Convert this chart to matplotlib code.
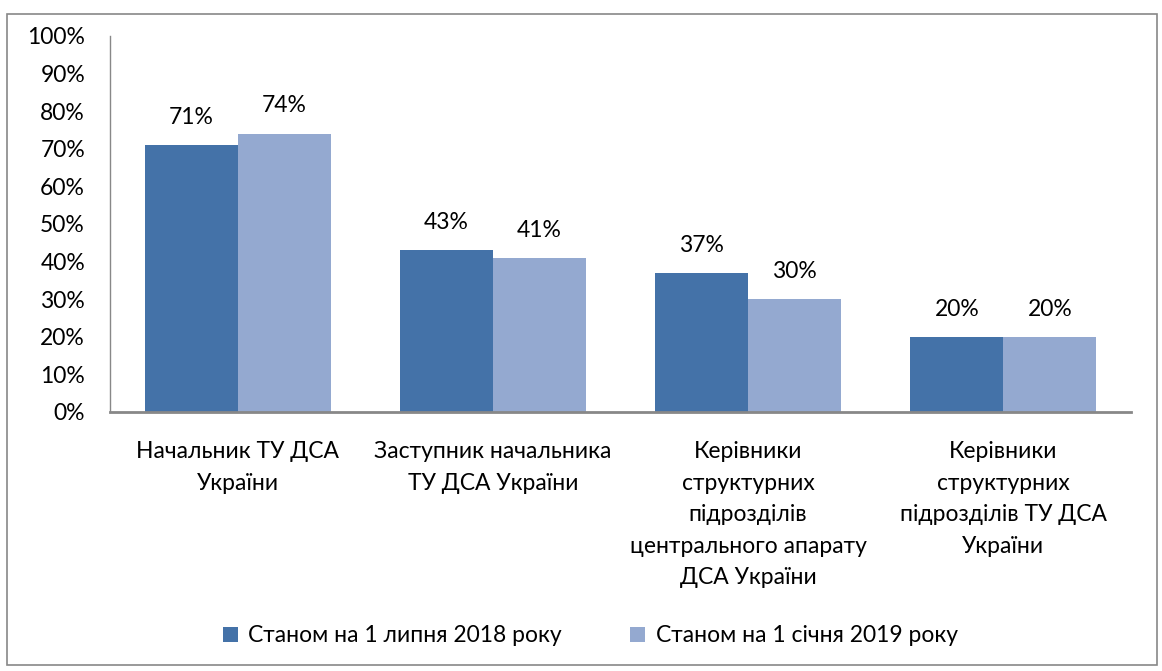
import numpy as np
import matplotlib
matplotlib.use('Agg')
import matplotlib.pyplot as plt
from matplotlib.patches import Rectangle

plt.rcParams['font.family'] = ['Lato', 'DejaVu Sans']

categories = [
    'Начальник ТУ ДСА\nУкраїни',
    'Заступник начальника\nТУ ДСА України',
    'Керівники\nструктурних\nпідрозділів\nцентрального апарату\nДСА України',
    'Керівники\nструктурних\nпідрозділів ТУ ДСА\nУкраїни',
]
series_names = ['Станом на 1 липня 2018 року', 'Станом на 1 січня 2019 року']
values_2018 = [71, 43, 37, 20]
values_2019 = [74, 41, 30, 20]
colors = ['#4472A8', '#94A9D0']

FS = 16.5

fig = plt.figure(figsize=(11.62, 6.71), dpi=100)
ax = fig.add_axes([110 / 1162, 1 - 412 / 671, 1021 / 1162, 376 / 671])

x = np.arange(len(categories))
w = 0.364
bars1 = ax.bar(x - w / 2, values_2018, w, color=colors[0], label=series_names[0])
bars2 = ax.bar(x + w / 2, values_2019, w, color=colors[1], label=series_names[1])

for bars in (bars1, bars2):
    for b in bars:
        ax.annotate(f'{b.get_height():.0f}%', (b.get_x() + b.get_width() / 2, b.get_height()),
                    xytext=(0, 20), textcoords='offset points',
                    ha='center', va='center', fontsize=FS, color='black')

ax.set_xlim(-0.5, len(categories) - 0.5)
ax.set_ylim(0, 100)
ax.set_yticks(range(0, 101, 10))
ax.set_yticklabels([f'{v}%' for v in range(0, 101, 10)], fontsize=FS)
ax.set_xticks(x)
ax.set_xticklabels(categories, fontsize=FS, linespacing=1.62)
ax.tick_params(axis='y', length=0, pad=18)
ax.tick_params(axis='x', length=0, pad=21)

for s in ('top', 'right'):
    ax.spines[s].set_visible(False)
ax.spines['left'].set_color('#888888')
ax.spines['left'].set_linewidth(1)
ax.spines['bottom'].set_color('#888888')
ax.spines['bottom'].set_linewidth(2)

fig.legend(loc='center', bbox_to_anchor=(0.508, 1 - 636 / 671), ncol=2, frameon=False,
           fontsize=FS, handlelength=0.65, handleheight=0.65, handletextpad=0.45,
           columnspacing=3.0)

fig.patches.append(Rectangle((7 / 1162, 1 - 665 / 671), 1150 / 1162, 651 / 671,
                             transform=fig.transFigure, fill=False,
                             edgecolor='#888888', linewidth=1.2))

fig.savefig('out.png', dpi=100)
